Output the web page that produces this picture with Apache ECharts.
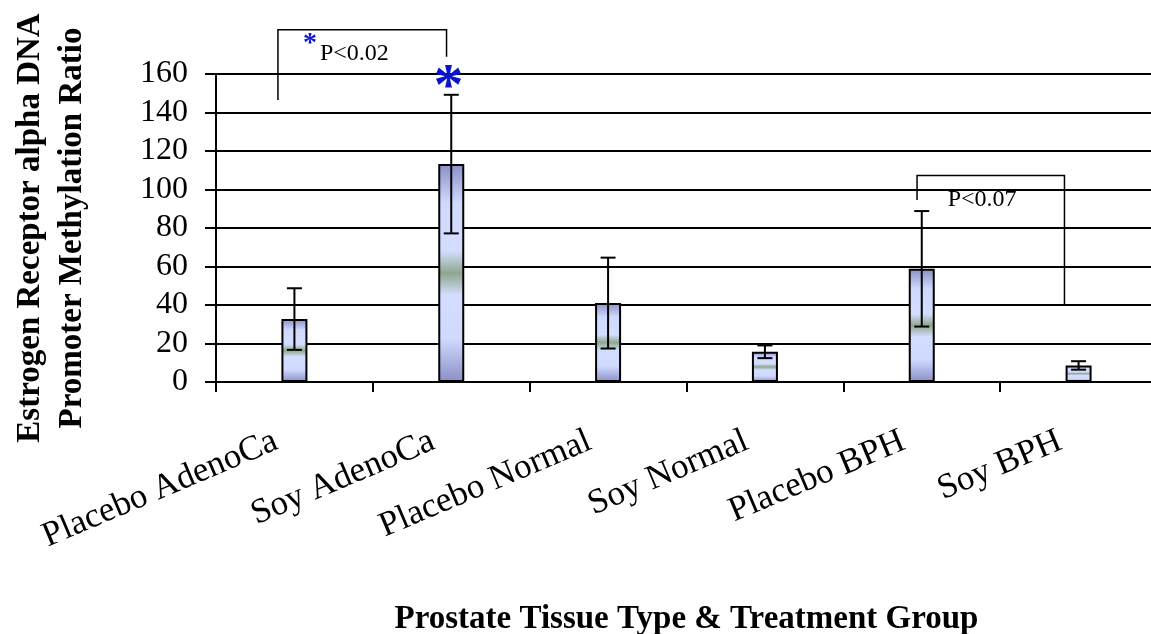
<!DOCTYPE html>
<html>
<head>
<meta charset="utf-8">
<script src="https://cdn.jsdelivr.net/npm/echarts@6/dist/echarts.min.js"></script>
<style>
  html, body { margin: 0; padding: 0; background: #fff; }
  #chart { width: 1151px; height: 634px; }
</style>
</head>
<body>
<div id="chart"></div>
<script>
// Methylation ratio per tissue type / treatment group (mean and standard error)
const categories = ['Placebo AdenoCa', 'Soy AdenoCa', 'Placebo Normal', 'Soy Normal', 'Placebo BPH', 'Soy BPH'];
const means = [32.7, 113.2, 41.0, 15.7, 58.8, 8.6];
const sem = [16.0, 36.0, 23.6, 3.3, 30.0, 2.2];

// Value axis ticks
const yMin = 0;
const yMax = 160;
const yStep = 20;

// Significance brackets: category pairs, bracket heights and labels
const bracketPairs = [[0, 1], [4, 5]];
const bracketTops = [183, 107.3];
const bracketLegEnds = [[146.5, 169], [94.5, 40]];
const bracketLabels = ['P<0.02', 'P<0.07'];

const SERIF = "'Liberation Serif', 'DejaVu Serif', serif";

const chart = echarts.init(document.getElementById('chart'), null, { renderer: 'canvas' });

const barFill = new echarts.graphic.LinearGradient(0, 0, 0, 1, [
  { offset: 0, color: '#8a8fc6' },
  { offset: 0.18, color: '#d0daff' },
  { offset: 0.40, color: '#d3ddff' },
  { offset: 0.50, color: '#8fa68c' },
  { offset: 0.60, color: '#d3ddff' },
  { offset: 0.80, color: '#d0daff' },
  { offset: 1, color: '#8a8fc6' }
]);

const errData = means.map((m, i) => [i, m - sem[i], m + sem[i]]);

chart.setOption({
  animation: false,
  backgroundColor: '#fff',
  grid: { left: 216, top: 74, width: 941, height: 308, containLabel: false, outerBoundsMode: 'none' },
  xAxis: {
    type: 'category',
    data: categories,
    boundaryGap: true,
    name: 'Prostate Tissue Type & Treatment Group',
    nameLocation: 'middle',
    nameGap: 221,
    nameTextStyle: { fontFamily: SERIF, fontSize: 33, fontWeight: 'bold', color: '#000' },
    axisLine: { show: true, lineStyle: { color: '#000', width: 2 } },
    axisTick: { show: true, length: 10, lineStyle: { color: '#000', width: 2 } },
    axisLabel: {
      rotate: 23,
      interval: 0,
      margin: 50,
      padding: [0, 20, 0, 0],
      fontFamily: SERIF,
      fontSize: 35,
      color: '#000'
    },
    splitLine: { show: false }
  },
  yAxis: {
    type: 'value',
    min: yMin,
    max: yMax,
    interval: yStep,
    name: 'Estrogen Receptor alpha DNA\nPromoter Methylation Ratio',
    nameLocation: 'middle',
    nameGap: 123,
    nameTextStyle: { fontFamily: SERIF, fontSize: 33, fontWeight: 'bold', color: '#000', lineHeight: 42 },
    axisLine: { show: true, lineStyle: { color: '#000', width: 2 } },
    axisTick: { show: true, length: 11, lineStyle: { color: '#000', width: 2 } },
    axisLabel: { margin: 28, fontFamily: SERIF, fontSize: 32, color: '#000' },
    splitLine: { show: true, lineStyle: { color: '#000', width: 2 } }
  },
  series: [
    {
      type: 'bar',
      data: means,
      barWidth: 26,
      itemStyle: { color: barFill, borderColor: '#000', borderWidth: 2 },
      z: 2
    },
    {
      type: 'custom',
      data: errData,
      z: 3,
      renderItem: function (params, api) {
        const i = api.value(0);
        const lo = api.coord([i, api.value(1)]);
        const hi = api.coord([i, api.value(2)]);
        const half = 7.5;
        const style = { stroke: '#000', lineWidth: 2 };
        return {
          type: 'group',
          children: [
            { type: 'line', shape: { x1: hi[0], y1: hi[1], x2: lo[0], y2: lo[1] }, style: style },
            { type: 'line', shape: { x1: hi[0] - half, y1: hi[1], x2: hi[0] + half, y2: hi[1] }, style: style },
            { type: 'line', shape: { x1: lo[0] - half, y1: lo[1], x2: lo[0] + half, y2: lo[1] }, style: style }
          ]
        };
      }
    }
  ]
});

// Annotations placed through the axis scales
function px(cat, offset, value) {
  const p = chart.convertToPixel({ gridIndex: 0 }, [cat, value]);
  const band = chart.convertToPixel({ gridIndex: 0 }, [1, 0])[0] - chart.convertToPixel({ gridIndex: 0 }, [0, 0])[0];
  return [p[0] + offset * band, p[1]];
}

const legOffsets = [[-0.105, -0.03], [-0.03, -0.09]];
const graphics = [];
bracketPairs.forEach((pair, k) => {
  const a0 = px(pair[0], legOffsets[k][0], bracketLegEnds[k][0]);
  const a1 = px(pair[0], legOffsets[k][0], bracketTops[k]);
  const b1 = px(pair[1], legOffsets[k][1], bracketTops[k]);
  const b0 = px(pair[1], legOffsets[k][1], bracketLegEnds[k][1]);
  graphics.push({
    type: 'polyline',
    shape: { points: [a0, a1, b1, b0] },
    style: { stroke: '#000', lineWidth: 1.5, fill: null },
    z: 10
  });
});

const t1 = px(0, 0.163, 170.4);
graphics.push({
  type: 'text', x: t1[0], y: t1[1], z: 10,
  style: { text: bracketLabels[0], font: '24px ' + SERIF, fill: '#000', verticalAlign: 'middle', align: 'left' }
});
const s1 = px(0, 0.1, 176.6);
graphics.push({
  type: 'text', x: s1[0], y: s1[1] + 2, z: 10,
  style: { text: '*', font: 'bold 28px ' + SERIF, fill: '#0a14d0', verticalAlign: 'middle', align: 'center' }
});
const t2 = px(4, 0.165, 94.5);
graphics.push({
  type: 'text', x: t2[0], y: t2[1], z: 10,
  style: { text: bracketLabels[1], font: '24px ' + SERIF, fill: '#000', verticalAlign: 'middle', align: 'left' }
});
const star = px(1, -0.017, 159.5);
graphics.push({
  type: 'text', x: star[0], y: star[1] + 14, z: 10,
  style: { text: '*', font: 'bold 60px ' + SERIF, fill: '#0a14d0', verticalAlign: 'middle', align: 'center' }
});

chart.setOption({ graphic: graphics });
</script>
</body>
</html>
